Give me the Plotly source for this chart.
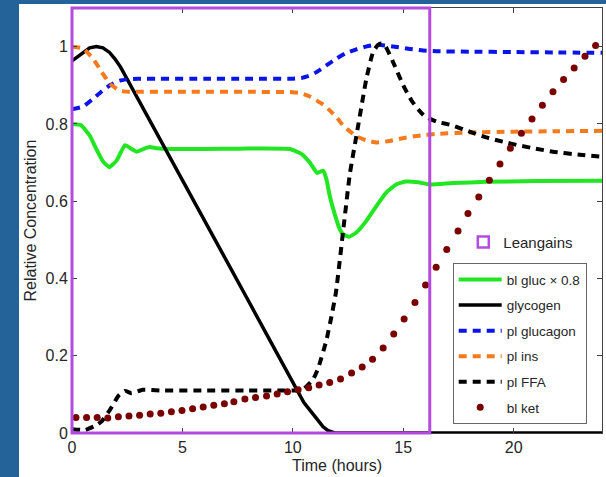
import plotly.graph_objects as go

# ---------------- data ----------------
gluc_t = [0, 0.4, 0.8, 1.1, 1.4, 1.69, 2.02, 2.4, 2.7, 2.93, 3.23, 3.5, 3.83, 4.43, 6, 7.6,
          9.86, 10.4, 10.77, 11.1, 11.37, 11.52, 11.67, 11.9, 12.13, 12.28, 12.55, 12.88, 13.33,
          13.79, 14.24, 14.7, 15.14, 15.67, 16.2, 17.25, 18.76, 21.0, 24]
gluc_v = [0.80, 0.797, 0.770, 0.735, 0.703, 0.688, 0.705, 0.745, 0.735, 0.728, 0.735, 0.740, 0.737,
          0.735, 0.735, 0.736, 0.735, 0.722, 0.700, 0.673, 0.679, 0.657, 0.614, 0.566, 0.527, 0.514,
          0.508, 0.519, 0.549, 0.588, 0.623, 0.644, 0.651, 0.649, 0.643, 0.647, 0.650, 0.652, 0.653]

glyc_t = [0, 0.5, 0.8, 1.1, 1.4, 1.7, 1.95, 2.2, 3, 4, 5, 6, 7, 8, 9, 10, 10.5, 11.07, 11.37, 11.6, 11.9, 24]
glyc_v = [0.963, 0.986, 0.997, 1.0, 0.997, 0.985, 0.968, 0.947, 0.864, 0.759, 0.655, 0.55, 0.445,
          0.341, 0.236, 0.131, 0.079, 0.038, 0.016, 0.006, 0.0, 0.0]

glucagon_t = [0, 0.5, 0.95, 1.3, 1.72, 2.17, 2.6, 3, 4, 6, 8, 10, 10.4, 10.8, 11.07, 11.5, 11.98,
              12.4, 12.88, 13.3, 13.63, 14, 14.7, 15.3, 15.9, 16.5, 18, 20, 22, 24]
glucagon_v = [0.838, 0.845, 0.865, 0.882, 0.90, 0.912, 0.916, 0.917, 0.917, 0.917, 0.917, 0.917,
              0.919, 0.926, 0.934, 0.951, 0.969, 0.983, 0.993, 1.0, 1.004, 1.004, 0.999, 0.994,
              0.99, 0.988, 0.987, 0.986, 0.985, 0.984]

ins_t = [0, 0.5, 0.95, 1.34, 1.72, 2.17, 2.6, 3, 5, 8, 10, 10.4, 10.8, 11.07, 11.4, 11.67, 12.0,
         12.27, 12.6, 12.88, 13.3, 13.8, 14.4, 14.98, 15.5, 15.9, 16.5, 18, 20, 22, 24]
ins_v = [1.0, 0.995, 0.969, 0.935, 0.904, 0.886, 0.883, 0.883, 0.883, 0.883, 0.882, 0.879, 0.870,
         0.861, 0.849, 0.835, 0.816, 0.796, 0.780, 0.768, 0.758, 0.752, 0.756, 0.763, 0.768, 0.771,
         0.774, 0.778, 0.780, 0.781, 0.782]

ffa_t = [0, 0.6, 1.1, 1.34, 1.72, 2.1, 2.4, 2.7, 3.2, 4, 6, 8, 10, 10.45, 10.92, 11.15, 11.52,
         11.75, 11.95, 12.27, 12.58, 12.96, 13.33, 13.63, 13.85, 14.0, 14.2, 14.54, 15.0, 15.37,
         15.7, 15.97, 16.5, 17.24, 18.0, 18.76, 19.5, 20.27, 21, 21.77, 23, 24]
ffa_v = [0.01, 0.008, 0.02, 0.03, 0.06, 0.096, 0.109, 0.103, 0.112, 0.11, 0.11, 0.11, 0.11, 0.112,
         0.139, 0.168, 0.24, 0.302, 0.363, 0.519, 0.67, 0.796, 0.917, 0.986, 1.004, 1.008, 1.0,
         0.96, 0.9, 0.861, 0.836, 0.82, 0.806, 0.796, 0.78, 0.765, 0.754, 0.744, 0.736, 0.728,
         0.72, 0.715]

ket_t = [0.18, 0.66, 1.14, 1.62, 2.10, 2.58, 3.06, 3.54, 4.02, 4.50,
         4.98, 5.46, 5.94, 6.42, 6.90, 7.33, 7.83, 8.31, 8.81, 9.29,
         9.76, 10.24, 10.72, 11.19, 11.67, 12.16, 12.66, 13.14, 13.61, 14.09,
         14.57, 15.04, 15.53, 16.01, 16.49, 16.97, 17.48, 17.93, 18.42, 18.90,
         19.38, 19.85, 20.35, 20.83, 21.30, 21.78, 22.26, 22.74, 23.23, 23.71]
ket_v = [0.040, 0.040, 0.040, 0.039, 0.042, 0.044, 0.046, 0.049, 0.051, 0.055,
         0.058, 0.063, 0.067, 0.072, 0.076, 0.081, 0.088, 0.092, 0.096, 0.101,
         0.107, 0.112, 0.117, 0.124, 0.131, 0.140, 0.155, 0.171, 0.191, 0.220,
         0.256, 0.295, 0.338, 0.383, 0.429, 0.475, 0.523, 0.568, 0.611, 0.654,
         0.696, 0.737, 0.776, 0.813, 0.848, 0.883, 0.915, 0.945, 0.975, 1.003]

leangains_window = [0, 16.2]   # hours
x_range = [0, 24]
y_range = [0, 1.1]
x_ticks = [0, 5, 10, 15, 20]
y_ticks = [0, 0.2, 0.4, 0.6, 0.8, 1]
y_ticklabels = ["0", "0.2", "0.4", "0.6", "0.8", "1"]

# ---------------- styling ----------------
FONT = "Liberation Sans, Arial, Helvetica, sans-serif"
TXT = "#262626"
PURPLE = "#b44be1"
DASH = "8px,6px"

fig = go.Figure()

fig.add_trace(go.Scatter(x=gluc_t, y=gluc_v, mode="lines", name="bl gluc \u00d7 0.8",
                         legendgroup="g1", line=dict(color="#22e622", width=4, shape="spline", smoothing=0.4)))
fig.add_trace(go.Scatter(x=glyc_t, y=glyc_v, mode="lines", name="glycogen",
                         legendgroup="g2", line=dict(color="black", width=3.5)))
fig.add_trace(go.Scatter(x=glucagon_t, y=glucagon_v, mode="lines", name="pl glucagon",
                         legendgroup="g3", line=dict(color="#0a14e8", width=4, dash=DASH, shape="spline", smoothing=0.5)))
fig.add_trace(go.Scatter(x=ins_t, y=ins_v, mode="lines", name="pl ins",
                         legendgroup="g4", line=dict(color="#f57a1e", width=4, dash=DASH, shape="spline", smoothing=0.5)))
fig.add_trace(go.Scatter(x=ffa_t, y=ffa_v, mode="lines", name="pl FFA",
                         legendgroup="g5", line=dict(color="black", width=4, dash=DASH, shape="spline", smoothing=0.4)))
fig.add_trace(go.Scatter(x=ket_t, y=ket_v, mode="markers", name="bl ket",
                         legendgroup="g6", marker=dict(color="#7a0000", size=7, line=dict(width=0))))
# legend proxy for the highlighted window
fig.add_trace(go.Scatter(x=[None], y=[None], mode="markers", name="Leangains", legend="legend2",
                         marker=dict(symbol="square-open", size=11, color=PURPLE, line=dict(width=2.5, color=PURPLE))))

span = x_range[1] - x_range[0]
fig.add_shape(type="rect", xref="x domain", yref="y domain",
              x0=(leangains_window[0] - x_range[0]) / span,
              x1=(leangains_window[1] - x_range[0]) / span,
              y0=0, y1=1, line=dict(color=PURPLE, width=3), fillcolor="rgba(0,0,0,0)", layer="above")

# white slide card over blue background
fig.add_shape(type="rect", xref="paper", yref="paper", x0=-0.1, x1=1.1, y0=-0.3, y1=1.0094,
              fillcolor="white", line=dict(width=0), layer="below")

axis_common = dict(showgrid=False, zeroline=False, showline=True, linecolor="#404040", linewidth=1,
                   mirror="ticks", ticks="inside", ticklen=5, tickwidth=1, tickcolor="#404040",
                   tickfont=dict(family=FONT, size=16, color=TXT))

fig.update_layout(
    width=606, height=477,
    margin=dict(l=72, r=4, t=8, b=44),
    paper_bgcolor="#23639a", plot_bgcolor="white",
    font=dict(family=FONT, color=TXT),
    xaxis=dict(range=x_range, tickvals=x_ticks, **axis_common),
    yaxis=dict(range=y_range, tickvals=y_ticks, ticktext=y_ticklabels, **axis_common),
    showlegend=True,
    legend=dict(x=0.7183, y=0.3993, xanchor="left", yanchor="top", bgcolor="white",
                bordercolor="#666666", borderwidth=1, font=dict(family=FONT, size=13.5, color=TXT),
                traceorder="grouped", tracegroupgap=5, itemwidth=43),
    legend2=dict(x=0.7383, y=0.4876, xanchor="left", yanchor="top", bgcolor="rgba(0,0,0,0)",
                 borderwidth=0, font=dict(family=FONT, size=15, color=TXT)),
    annotations=[
        dict(text="Time (hours)", xref="paper", yref="paper", x=0.5, y=-0.0753, xanchor="center",
             yanchor="middle", showarrow=False, font=dict(family=FONT, size=16, color=TXT)),
        dict(text="Relative Concentration", xref="paper", yref="paper", x=-0.0792, y=0.5,
             xanchor="center", yanchor="middle", textangle=-90, showarrow=False,
             font=dict(family=FONT, size=16, color=TXT)),
    ],
)

fig.write_html("out.html", config={"displayModeBar": False},
               post_script="document.body.style.margin='0';document.body.style.overflow='hidden';")
